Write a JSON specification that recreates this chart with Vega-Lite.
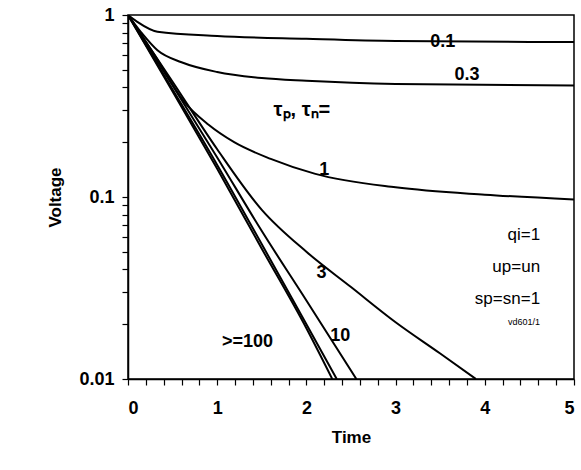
{
  "$schema": "https://vega.github.io/schema/vega-lite/v6.json",
  "width": 446,
  "height": 364,
  "padding": {"left": 46, "top": 6, "right": 11, "bottom": 5},
  "autosize": "pad",
  "config": {
    "font": "Liberation Sans",
    "view": {"stroke": "black", "strokeWidth": 1.5},
    "axis": {"ticks": true, "domainColor": "black", "domainWidth": 1.5, "tickColor": "black", "tickWidth": 1.2, "labelFont": "Liberation Sans", "labelFontWeight": "bold", "labelFontSize": 18, "labelColor": "black", "titleFontSize": 17, "titleFontWeight": "bold", "titleColor": "black", "grid": false}
  },
  "datasets": {
    "curves": [
      {"s": "0.1", "t": 0, "v": 1}, {"s": "0.1", "t": 0.1, "v": 0.92}, {"s": "0.1", "t": 0.33, "v": 0.81}, {"s": "0.1", "t": 1, "v": 0.767}, {"s": "0.1", "t": 2, "v": 0.74}, {"s": "0.1", "t": 3, "v": 0.72}, {"s": "0.1", "t": 5, "v": 0.71},
      {"s": "0.3", "t": 0, "v": 1}, {"s": "0.3", "t": 0.15, "v": 0.8}, {"s": "0.3", "t": 0.33, "v": 0.64}, {"s": "0.3", "t": 0.6, "v": 0.55}, {"s": "0.3", "t": 1, "v": 0.486}, {"s": "0.3", "t": 1.5, "v": 0.45}, {"s": "0.3", "t": 2, "v": 0.435}, {"s": "0.3", "t": 3, "v": 0.418}, {"s": "0.3", "t": 5, "v": 0.41},
      {"s": "1", "t": 0, "v": 1}, {"s": "1", "t": 0.3, "v": 0.6}, {"s": "1", "t": 0.63, "v": 0.333}, {"s": "1", "t": 0.9, "v": 0.25}, {"s": "1", "t": 1.19, "v": 0.2}, {"s": "1", "t": 1.6, "v": 0.162}, {"s": "1", "t": 2.1, "v": 0.134}, {"s": "1", "t": 3, "v": 0.113}, {"s": "1", "t": 4, "v": 0.103}, {"s": "1", "t": 5, "v": 0.097},
      {"s": "3", "t": 0, "v": 1}, {"s": "3", "t": 0.5, "v": 0.43}, {"s": "3", "t": 1, "v": 0.183}, {"s": "3", "t": 1.5, "v": 0.085}, {"s": "3", "t": 2, "v": 0.05}, {"s": "3", "t": 2.5, "v": 0.032}, {"s": "3", "t": 3, "v": 0.0205}, {"s": "3", "t": 3.5, "v": 0.0138}, {"s": "3", "t": 3.9, "v": 0.01},
      {"s": "10", "t": 0, "v": 1}, {"s": "10", "t": 0.5, "v": 0.41}, {"s": "10", "t": 1, "v": 0.165}, {"s": "10", "t": 1.5, "v": 0.065}, {"s": "10", "t": 2, "v": 0.027}, {"s": "10", "t": 2.56, "v": 0.01},
      {"s": "30", "t": 0, "v": 1}, {"s": "30", "t": 0.5, "v": 0.39}, {"s": "30", "t": 1, "v": 0.15}, {"s": "30", "t": 1.5, "v": 0.055}, {"s": "30", "t": 2, "v": 0.02}, {"s": "30", "t": 2.34, "v": 0.01},
      {"s": "100", "t": 0, "v": 1}, {"s": "100", "t": 0.5, "v": 0.38}, {"s": "100", "t": 1, "v": 0.143}, {"s": "100", "t": 1.5, "v": 0.052}, {"s": "100", "t": 2, "v": 0.019}, {"s": "100", "t": 2.29, "v": 0.01}
    ],
    "labels": [
      {"t": 3.53, "v": 0.71, "txt": "0.1", "a": "left", "sz": 18},
      {"t": 3.8, "v": 0.47, "txt": "0.3", "a": "left", "sz": 18},
      {"t": 1.95, "v": 0.3, "txt": "τₚ, τₙ=", "a": "left", "sz": 20},
      {"t": 2.2, "v": 0.14, "txt": "1", "a": "center", "sz": 18},
      {"t": 2.17, "v": 0.038, "txt": "3", "a": "center", "sz": 18},
      {"t": 2.38, "v": 0.0172, "txt": "10", "a": "center", "sz": 18},
      {"t": 1.34, "v": 0.016, "txt": ">=100", "a": "center", "sz": 18}
    ],
    "notes": [
      {"t": 4.62, "v": 0.062, "txt": "qi=1", "sz": 17},
      {"t": 4.62, "v": 0.0415, "txt": "up=un", "sz": 17},
      {"t": 4.62, "v": 0.0276, "txt": "sp=sn=1", "sz": 17},
      {"t": 4.62, "v": 0.0205, "txt": "vd601/1", "sz": 9}
    ]
  },
  "encoding": {
    "x": {"field": "t", "type": "quantitative", "scale": {"domain": [0, 5], "nice": false}, "title": "Time",
      "axis": {"values": [0, 0.2, 0.4, 0.6, 0.8, 1, 1.2, 1.4, 1.6, 1.8, 2, 2.2, 2.4, 2.6, 2.8, 3, 3.2, 3.4, 3.6, 3.8, 4, 4.2, 4.4, 4.6, 4.8, 5], "labelExpr": "datum.value % 1 == 0 ? format(datum.value, 'd') : ''", "tickSize": 6, "labelPadding": 14, "titlePadding": 12}},
    "y": {"field": "v", "type": "quantitative", "scale": {"type": "log", "domain": [0.01, 1], "nice": false}, "title": "Voltage",
      "axis": {"values": [0.01, 0.02, 0.03, 0.04, 0.05, 0.06, 0.07, 0.08, 0.09, 0.1, 0.2, 0.3, 0.4, 0.5, 0.6, 0.7, 0.8, 0.9, 1], "labelExpr": "datum.value == 1 ? '1' : datum.value == 0.1 ? '0.1' : datum.value == 0.01 ? '0.01' : ''", "tickSize": 6, "labelPadding": 8, "titlePadding": 14}}
  },
  "layer": [
    {"data": {"name": "curves"}, "mark": {"type": "line", "color": "black", "strokeWidth": 2, "interpolate": "monotone", "clip": true},
      "encoding": {"detail": {"field": "s"}}},
    {"data": {"name": "labels"}, "mark": {"type": "text", "fontWeight": "bold", "baseline": "middle", "color": "black"},
      "encoding": {"text": {"field": "txt"}, "align": {"field": "a", "type": "nominal", "scale": null}, "size": {"field": "sz", "type": "quantitative", "scale": null}}},
    {"data": {"name": "notes"}, "mark": {"type": "text", "align": "right", "baseline": "middle", "color": "black"},
      "encoding": {"text": {"field": "txt"}, "size": {"field": "sz", "type": "quantitative", "scale": null}}}
  ]
}
